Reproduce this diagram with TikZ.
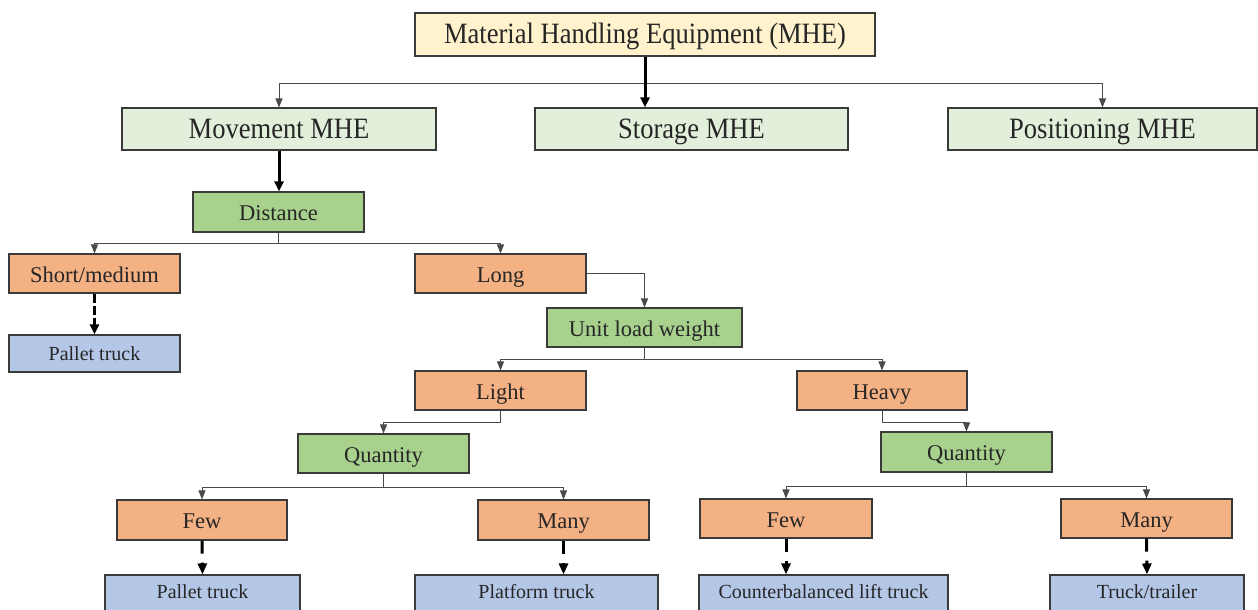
\documentclass[tikz,border=0pt]{standalone}
\usepackage{fontspec}
\setmainfont{Liberation Serif}
\newfontfamily\tallserif{Liberation Serif}[FakeStretch=0.9]
\usetikzlibrary{arrows.meta}
\definecolor{topfill}{HTML}{FFF2CC}
\definecolor{lvlfill}{HTML}{E2EFDA}
\definecolor{critfill}{HTML}{A9D18E}
\definecolor{optfill}{HTML}{F4B183}
\definecolor{eqfill}{HTML}{B4C7E7}
\definecolor{edge}{HTML}{3A3A3A}
\definecolor{wire}{HTML}{4A4A4A}
\tikzset{
  box/.style={draw=edge, line width=1.1pt, inner sep=0pt, text=black!85},
  topbox/.style={box, fill=topfill, font=\tallserif\fontsize{29.5}{33}\selectfont,
                 text height=24pt, text depth=5pt},
  lvlbox/.style={box, fill=lvlfill, font=\tallserif\fontsize{29.5}{33}\selectfont,
                 text height=24pt, text depth=5pt},
  critbox/.style={box, fill=critfill, font=\fontsize{22.5}{26}\selectfont,
                  text height=21pt, text depth=4pt},
  optbox/.style={box, fill=optfill, font=\fontsize{22.5}{26}\selectfont,
                 text height=21pt, text depth=4pt},
  eqbox/.style={box, fill=eqfill, font=\fontsize{20}{24}\selectfont,
                text height=17pt, text depth=4pt},
  eqlow/.style={eqbox, text height=15pt, text depth=6pt},
  wirearrow/.style={draw=wire, line width=1pt, -{Triangle[length=9pt,width=7pt]}},
  wireline/.style={draw=wire, line width=1pt},
  boldarrow/.style={draw=black, line width=3pt, -{Triangle[length=10pt,width=9pt]}},
  dashA/.style={draw=black, line width=3pt, dash pattern=on 9pt off 3pt, -{Triangle[length=10pt,width=9pt]}},
  dashB/.style={draw=black, line width=3pt, dash pattern=on 13pt off 9pt, -{Triangle[length=11pt,width=9pt]}},
}
\begin{document}
\begin{tikzpicture}[x=1pt,y=-1pt]
\useasboundingbox[fill=white] (0,0) rectangle (1258,610);

% root and main categories
\node[topbox, minimum width=460pt, minimum height=43pt] (mhe) at (645,34.5) {Material Handling Equipment (MHE)};
\node[lvlbox, minimum width=314pt, minimum height=42pt] (move) at (279,129) {Movement MHE};
\node[lvlbox, minimum width=313pt, minimum height=42pt] (stor) at (691.5,129) {Storage MHE};
\node[lvlbox, minimum width=309pt, minimum height=42pt] (pos) at (1102.5,129) {Positioning MHE};

% distance branch
\node[critbox, minimum width=171pt, minimum height=40pt] (dist) at (278.5,212) {Distance};
\node[optbox, minimum width=171pt, minimum height=39pt] (short) at (94.5,273.5) {Short/medium};
\node[optbox, minimum width=171pt, minimum height=39pt] (long) at (500.5,273.5) {Long};
\node[eqbox, minimum width=171pt, minimum height=37pt] (pal1) at (94.5,353.5) {Pallet truck};

% unit load weight branch
\node[critbox, minimum width=195pt, minimum height=39pt] (ulw) at (644.5,327.5) {Unit load weight};
\node[optbox, minimum width=171pt, minimum height=39pt] (light) at (500.5,390.5) {Light};
\node[optbox, minimum width=170pt, minimum height=39pt] (heavy) at (882,390.5) {Heavy};

% quantity branches
\node[critbox, minimum width=171pt, minimum height=39pt] (qL) at (383.5,453.5) {Quantity};
\node[critbox, minimum width=171pt, minimum height=40pt] (qR) at (966.5,452) {Quantity};
\node[optbox, minimum width=170pt, minimum height=40pt] (fewL) at (202,520) {Few};
\node[optbox, minimum width=171pt, minimum height=40pt] (manyL) at (563.5,520) {Many};
\node[optbox, minimum width=172pt, minimum height=39pt] (fewR) at (786,518.5) {Few};
\node[optbox, minimum width=171pt, minimum height=39pt] (manyR) at (1146.5,518.5) {Many};

% equipment (lower edge runs past the page)
\node[eqlow, minimum width=195pt, minimum height=38pt] (pal2) at (202.5,594) {Pallet truck};
\node[eqlow, minimum width=243pt, minimum height=38pt] (plat) at (536.5,594) {Platform truck};
\node[eqlow, minimum width=249pt, minimum height=38pt] (cblt) at (823.5,594) {Counterbalanced lift truck};
\node[eqlow, minimum width=194pt, minimum height=38pt] (truck) at (1147,594) {Truck/trailer};

% bus points
\coordinate (b0) at (645,83);
\coordinate (b1) at (278.5,243);
\coordinate (b2) at (644.5,359);
\coordinate (b3) at (500.5,422);
\coordinate (b4) at (882,422);
\coordinate (b5) at (383.5,487);
\coordinate (b6) at (966.5,486);

% connectors
\draw[wirearrow] (b0) -| (move.north);
\draw[wirearrow] (b0) -| (pos.north);
\draw[boldarrow] (mhe.south) -- (mhe.south |- stor.north);
\draw[boldarrow] (move.south) -- (move.south |- dist.north);

\draw[wireline] (dist.south) -- (b1);
\draw[wirearrow] (b1) -| (short.north);
\draw[wirearrow] (b1) -| (long.north);
\draw[dashA] (short.south) -- (pal1.north);

\draw[wirearrow] (long.east) -| (ulw.north);
\draw[wireline] (ulw.south) -- (b2);
\draw[wirearrow] (b2) -| (light.north);
\draw[wirearrow] (b2) -| (heavy.north);

\draw[wireline] (light.south) -- (b3);
\draw[wirearrow] (b3) -| (qL.north);
\draw[wireline] (heavy.south) -- (b4);
\draw[wirearrow] (b4) -| (qR.north);

\draw[wireline] (qL.south) -- (b5);
\draw[wirearrow] (b5) -| (fewL.north);
\draw[wirearrow] (b5) -| (manyL.north);
\draw[wireline] (qR.south) -- (b6);
\draw[wirearrow] (b6) -| (fewR.north);
\draw[wirearrow] (b6) -| (manyR.north);

\draw[dashB] (fewL.south) -- (pal2.north);
\draw[dashB] (manyL.south) -- (manyL.south |- plat.north);
\draw[dashB] (fewR.south) -- (fewR.south |- cblt.north);
\draw[dashB] (manyR.south) -- (truck.north);
\end{tikzpicture}
\end{document}
